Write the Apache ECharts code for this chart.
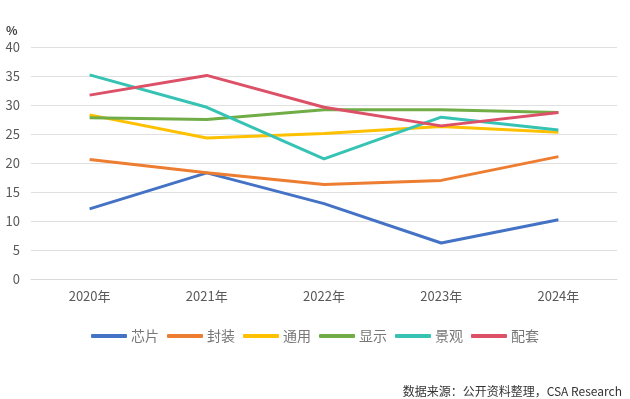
<!DOCTYPE html>
<html>
<head>
<meta charset="utf-8">
<script src="https://cdn.jsdelivr.net/npm/echarts@6/dist/echarts.min.js"></script>
<style>
  html, body { margin: 0; padding: 0; background: #fff; }
  #chart { width: 630px; height: 399px; }
</style>
</head>
<body>
<div id="chart"></div>
<script>
  const years = ['2020年', '2021年', '2022年', '2023年', '2024年'];
  const seriesNames = ['芯片', '封装', '通用', '显示', '景观', '配套'];
  const chip = [12.1, 18.3, 13.0, 6.2, 10.2];
  const pack = [20.6, 18.3, 16.3, 17.0, 21.1];
  const general = [28.3, 24.3, 25.1, 26.3, 25.3];
  const display = [27.8, 27.5, 29.2, 29.2, 28.7];
  const landscape = [35.2, 29.6, 20.7, 27.9, 25.7];
  const support = [31.7, 35.1, 29.6, 26.4, 28.7];
  const colors = ['#4472C4', '#ED7D31', '#FFC000', '#70AD47', '#36C3B4', '#DD5168'];

  let chart = echarts.init(document.getElementById('chart'));
  let values = [chip, pack, general, display, landscape, support];

  let option = {
    color: colors,
    textStyle: { fontFamily: 'Noto Sans CJK SC' },
    title: [
      {
        text: '%',
        left: 1,
        top: 19,
        textStyle: { fontSize: 12, fontWeight: 'bold', color: '#404040' }
      },
      {
        text: '数据来源：公开资料整理，CSA Research',
        right: 3,
        top: 380,
        textStyle: { fontSize: 12, fontWeight: 'normal', color: '#333' }
      }
    ],
    legend: {
      data: seriesNames,
      top: 324,
      left: 'center',
      icon: 'roundRect',
      itemWidth: 36,
      itemHeight: 4,
      itemGap: 8,
      textStyle: { fontSize: 14, color: '#777', padding: [0, 0, 0, -1] }
    },
    grid: {
      left: 31,
      right: 13,
      top: 47,
      bottom: 120
    },
    xAxis: {
      type: 'category',
      data: years,
      boundaryGap: true,
      axisTick: { show: false },
      axisLine: { lineStyle: { color: '#d9d9d9', width: 1 } },
      axisLabel: { color: '#595959', fontSize: 13, margin: 11 }
    },
    yAxis: {
      type: 'value',
      min: 0,
      max: 40,
      interval: 5,
      axisLine: { show: false },
      axisTick: { show: false },
      splitLine: { lineStyle: { color: '#e0e0e0', width: 1 } },
      axisLabel: { color: '#595959', fontSize: 13, margin: 11 }
    },
    series: seriesNames.map((n, i) => ({
      name: n,
      type: 'line',
      data: values[i],
      symbol: 'none',
      lineStyle: { width: 3 }
    }))
  };
  chart.setOption(option);
</script>
</body>
</html>
